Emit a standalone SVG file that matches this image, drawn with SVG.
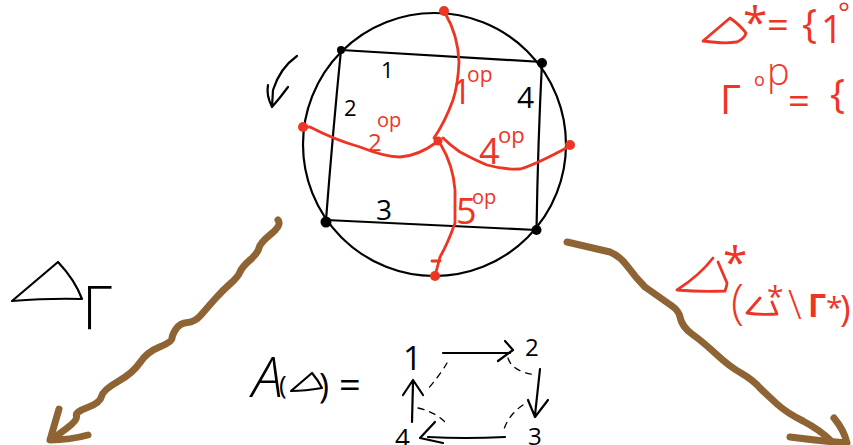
<svg xmlns="http://www.w3.org/2000/svg" width="853" height="445" viewBox="0 0 853 445">
<style>
.k{fill:none;stroke:#000;stroke-width:2.200;stroke-linecap:round;stroke-linejoin:round}
.r{fill:none;stroke:#ee3524;stroke-width:2.800;stroke-linecap:round;stroke-linejoin:round}
.b{fill:none;stroke:#8f6434;stroke-width:7;stroke-linecap:round;stroke-linejoin:round}
.d{fill:none;stroke:#000;stroke-width:1.300;stroke-dasharray:6 6;stroke-linecap:round}
.tk{fill:#000;font-family:"Open Sans","Liberation Sans",sans-serif}
.tr{fill:#ee3524;font-family:"Open Sans","Liberation Sans",sans-serif}
.dk{fill:#000}.dr{fill:#ee3524}
</style>
<rect width="853" height="445" fill="#fff"/>
<g id="circle-graph">
<circle class="k" cx="434.5" cy="144.5" r="131.5"/>
<path class="k" d="M341 50L542 62Q538 140 536.500 230L326 220Q333 130 341 50Z"/>
<circle class="dk" cx="341" cy="50" r="4"/><circle class="dk" cx="542" cy="63" r="5"/><circle class="dk" cx="326" cy="222" r="5.500"/><circle class="dk" cx="536.500" cy="230" r="5"/>
<text class="tk" x="381" y="78" font-size="22">1</text>
<text class="tk" x="344" y="116" font-size="22">2</text>
<text class="tk" x="376" y="220" font-size="28">3</text>
<text class="tk" x="517" y="108" font-size="30">4</text>
</g>
<g id="rotation-arrow"><path class="k" d="M297 56Q280 68 273 90L272 107Q266 95 268 85M272 107Q280 98 288 87"/></g>
<g id="dual-graph">
<path class="r" d="M445 13Q458 35 459 62Q458 85 453 100Q445 122 434 138"/>
<path class="r" d="M303 127L310 127Q335 140 360 147Q385 157 400 157Q418 156 437 142"/>
<path class="r" d="M443 138Q450 145 460 152Q475 160 487 165Q505 170 520 169Q535 165 570 146"/>
<path class="r" d="M441 145Q453 165 455 190L455 223Q448 243 440 257L435 276M432 261L440 261"/>
<circle class="dr" cx="444" cy="11" r="5"/><circle class="dr" cx="303" cy="127" r="5"/><circle class="dr" cx="570" cy="145" r="5"/><circle class="dr" cx="435" cy="276" r="5"/><circle class="dr" cx="438" cy="141" r="4.500"/>
<text class="tr" x="452" y="104" font-size="34">1</text><text class="tr" x="467" y="82" font-size="21">op</text>
<text class="tr" x="368" y="151" font-size="24">2</text><text class="tr" x="377" y="127" font-size="20">op</text>
<text class="tr" x="479" y="164" font-size="36">4</text><text class="tr" x="498" y="143" font-size="22">op</text>
<text class="tr" x="456" y="224" font-size="36">5</text><text class="tr" x="472" y="204" font-size="20">op</text>
</g>
<g id="left-branch">
<path class="b" d="M278 220Q282 225 271 234Q260 243 259 248Q258 253 250 260Q242 267 240 272Q238 277 230.500 283.500Q223 290 215 299Q207 308 201 315Q195 322 187.500 322.500Q180 323 176 329Q172 335 172 338.500Q172 342 159.500 347Q147 352 140 362.500Q133 373 118 381.500Q103 390 101.500 396.500Q100 403 87.500 407.500Q75 412 76.500 416Q78 420 66.500 428.500L55 437"/>
<path class="b" d="M59 409L50 440Q70 440 88 435"/>
<path class="k" d="M58 262L12 301Q50 298 82 299Q75 280 58 262Z"/>
<text class="tk" x="82" y="330" font-size="60" font-weight="300">Γ</text>
</g>
<g id="right-branch">
<path class="b" d="M567 242L610 252Q620 256 628 267Q636 278 645 287L672 306Q679 311 680 317Q682 327 692 334Q703 342 716 354Q730 367 741 373Q753 380 760 388Q767 395 777 404Q787 413 803 421Q820 430 830 440"/>
<path class="b" d="M790 437Q820 441 847 443Q844 430 834 418"/>
<path class="r" d="M713 258Q700 275 677 290Q700 292 725 291Q727 285 727 283L718 262"/>
<text class="tr" x="723" y="278" font-size="44">*</text>
<text class="tr" x="731" y="318" font-size="48" font-weight="300">(</text>
<path class="r" d="M760 298L747 313Q760 315 777 314L772 302"/>
<text class="tr" x="767" y="307" font-size="30">*</text>
<text class="tr" x="788" y="319" font-size="40" font-weight="300">\</text>
<text class="tr" x="808" y="317" font-size="32" font-weight="700">Γ</text>
<text class="tr" x="826" y="318" font-size="30">*</text>
<text class="tr" x="840" y="321" font-size="36">)</text>
</g>
<g id="top-right-formula">
<path class="r" d="M730 18L703 41Q725 44 737 42Q745 38 746 33Q740 25 730 18Z"/>
<text class="tr" x="743" y="38" font-size="44">*</text>
<text class="tr" x="767" y="38" font-size="38">=</text>
<text class="tr" x="802" y="38" font-size="40">{</text>
<text class="tr" x="821" y="43" font-size="38">1</text>
<text class="tr" x="838" y="23" font-size="28">°</text>
<text class="tr" x="720" y="114" font-size="40">Γ</text>
<text class="tr" x="754" y="86" font-size="18">o</text><text class="tr" x="767" y="85" font-size="38" font-weight="300">p</text>
<text class="tr" x="788" y="114" font-size="38">=</text>
<text class="tr" x="830" y="108" font-size="40">{</text>
</g>
<g id="algebra">
<text class="tk" x="252" y="397" font-size="56" font-style="italic" font-weight="300">A</text>
<text class="tk" x="279" y="394" font-size="26">(</text>
<path class="k" d="M312 373L291 391Q305 391 322 388Q318 380 312 373Z"/>
<text class="tk" x="319" y="398" font-size="34">)</text>
<text class="tk" x="339" y="398" font-size="38">=</text>
<text class="tk" x="403" y="370" font-size="33">1</text>
<text class="tk" x="525" y="356" font-size="24">2</text>
<text class="tk" x="528" y="445" font-size="24">3</text>
<text class="tk" x="395" y="447" font-size="26">4</text>
<path class="k" d="M443 353L510 353M505 341L513 350L498 361"/>
<path class="k" d="M540 369L535 415M528 400L535 417L548 400"/>
<path class="k" d="M505 437Q465 439 428 437M435 422L420 438L443 443"/>
<path class="k" d="M412 422L413 382M403 395L413 380L423 395"/>
<path class="d" d="M447 363Q440 375 427 390"/>
<path class="d" d="M508 358Q512 372 537 375"/>
<path class="d" d="M523 405Q508 415 503 432"/>
<path class="d" d="M418 408Q435 412 445 422"/>
</g>
</svg>
